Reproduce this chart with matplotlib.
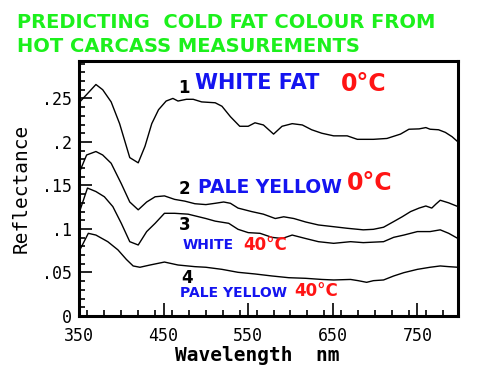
import matplotlib
matplotlib.use("Agg")
import matplotlib.pyplot as plt
from matplotlib.ticker import MultipleLocator

# curve values (wavelength nm, reflectance)
wl_1 = [350, 370, 378, 388, 398, 410, 420, 428, 436, 444, 453, 461, 467, 477, 485, 495,
        511, 519, 529, 540, 550, 558, 568, 580, 590, 602, 614, 625, 637, 651,
        667, 679, 698, 714, 730, 740, 752, 760, 765, 775, 783, 791, 798]
refl_1 = [0.245, 0.266, 0.260, 0.246, 0.221, 0.182, 0.176, 0.195, 0.221, 0.237, 0.247, 0.250, 0.247, 0.249, 0.249, 0.246,
          0.245, 0.241, 0.229, 0.218, 0.218, 0.222, 0.2195, 0.209, 0.218, 0.221, 0.2195, 0.214, 0.210, 0.207,
          0.207, 0.203, 0.203, 0.204, 0.209, 0.2146, 0.215, 0.2165, 0.2146, 0.214, 0.211, 0.206, 0.200]

wl_2 = [350, 359, 370, 378, 388, 400, 410, 420, 430, 440, 451, 463, 475, 487, 500,
        511, 521, 529, 538, 554, 568, 582, 592, 604, 618, 633, 651,
        667, 686, 698, 710, 722, 732, 742, 752, 760, 767, 772, 777, 787, 798]
refl_2 = [0.164, 0.185, 0.189, 0.185, 0.1755, 0.152, 0.131, 0.122, 0.131, 0.137, 0.138, 0.134, 0.132, 0.129, 0.128,
          0.1295, 0.131, 0.1295, 0.124, 0.120, 0.117, 0.112, 0.114, 0.112, 0.108, 0.1046, 0.1026,
          0.1008, 0.099, 0.0996, 0.102, 0.1085, 0.114, 0.120, 0.124, 0.1264, 0.124, 0.1287, 0.133, 0.130, 0.1257]

wl_3 = [350, 360, 370, 380, 390, 400, 410, 420, 430, 440, 451, 463, 479, 500,
        511, 527, 538, 550, 564, 578, 590, 602, 618, 633, 651,
        671, 686, 710, 722, 734, 750, 765, 777, 787, 798]
refl_3 = [0.118, 0.147, 0.143, 0.137, 0.1257, 0.1065, 0.0854, 0.0816, 0.097, 0.1065, 0.118, 0.118, 0.117, 0.112,
          0.109, 0.1065, 0.0996, 0.0958, 0.095, 0.0904, 0.089, 0.093, 0.089, 0.0854, 0.0835,
          0.0854, 0.0843, 0.0854, 0.0904, 0.093, 0.097, 0.097, 0.099, 0.095, 0.089]

wl_4 = [350, 361, 370, 384, 396, 406, 414, 422, 434, 451, 467, 487, 500,
        519, 538, 558, 578, 598, 618, 637, 651,
        671, 680, 690, 698, 710, 722, 734, 750, 765, 777, 787, 798]
refl_4 = [0.074, 0.095, 0.093, 0.0854, 0.076, 0.065, 0.0575, 0.056, 0.0586, 0.062, 0.0586, 0.0567, 0.056,
          0.0536, 0.0502, 0.0483, 0.046, 0.044, 0.0433, 0.042, 0.0414,
          0.042, 0.0406, 0.0387, 0.0406, 0.0414, 0.046, 0.0498, 0.0536, 0.056, 0.0575, 0.0567, 0.056]

ytick_vals = [0, 0.05, 0.1, 0.15, 0.2, 0.25]
ytick_text = ["0", ".05", ".1", ".15", ".2", ".25"]
xtick_vals = [350, 450, 550, 650, 750]

mono = "DejaVu Sans Mono"
blue = "#1414f0"
red = "#ff1414"
green = "#1cf01c"

fig = plt.figure(figsize=(4.9, 3.76), dpi=100)
ax = fig.add_axes([79 / 490, 60 / 376, 379 / 490, 255 / 376])

for wl, refl in [(wl_1, refl_1), (wl_2, refl_2), (wl_3, refl_3), (wl_4, refl_4)]:
    ax.plot(wl, refl, color="black", lw=1.0)

ax.set_xlim(350, 798)
ax.set_ylim(0, 0.293)
ax.set_xticks(xtick_vals)
ax.set_xticklabels([str(v) for v in xtick_vals], fontfamily=mono, fontsize=12)
ax.set_yticks(ytick_vals)
ax.set_yticklabels(ytick_text, fontfamily=mono, fontsize=12)
ax.xaxis.set_minor_locator(MultipleLocator(20))
ax.yaxis.set_minor_locator(MultipleLocator(0.01))
ax.tick_params(which="both", direction="in", top=False, right=False, width=1.2)
ax.tick_params(which="major", length=9.5)
ax.tick_params(which="minor", length=4.5)
ax.tick_params(axis="x", which="major", pad=8)
ax.tick_params(axis="y", which="major", pad=5)
for s in ax.spines.values():
    s.set_linewidth(2.2)

ax.set_xlabel("Wavelength  nm", fontfamily=mono, fontsize=14, fontweight="bold")
ax.xaxis.set_label_coords(0.471, -0.155)
ax.set_ylabel("Reflectance", fontfamily=mono, fontsize=14)
ax.yaxis.set_label_coords(-0.154, 0.5)
ax.xaxis.label.set_va("center")
ax.yaxis.label.set_va("center")

# curve labels
lab = dict(fontweight="bold", va="center")
ax.text(474, 0.262, "1", color="black", fontsize=12, ha="center", **lab)
ax.text(487, 0.268, "WHITE FAT", color=blue, fontsize=15, **lab)
ax.text(659, 0.2667, "0°C", color=red, fontsize=17, **lab)
ax.text(475, 0.146, "2", color="black", fontsize=12, ha="center", **lab)
ax.text(491, 0.1477, "PALE YELLOW", color=blue, fontsize=13.5, **lab)
ax.text(667, 0.153, "0°C", color=red, fontsize=17, **lab)
ax.text(475, 0.1046, "3", color="black", fontsize=12, ha="center", **lab)
ax.text(472, 0.0816, "WHITE", color=blue, fontsize=10, **lab)
ax.text(544, 0.0816, "40°C", color=red, fontsize=12, **lab)
ax.text(478, 0.0437, "4", color="black", fontsize=12, ha="center", **lab)
ax.text(469, 0.0264, "PALE YELLOW", color=blue, fontsize=10, **lab)
ax.text(605, 0.0282, "40°C", color=red, fontsize=12, **lab)

fig.text(17 / 490, 1 - 22 / 376, "PREDICTING  COLD FAT COLOUR FROM", color=green,
         fontsize=14, fontweight="bold", va="center")
fig.text(17 / 490, 1 - 47 / 376, "HOT CARCASS MEASUREMENTS", color=green,
         fontsize=14, fontweight="bold", va="center")

fig.savefig("out.png", dpi=100)
